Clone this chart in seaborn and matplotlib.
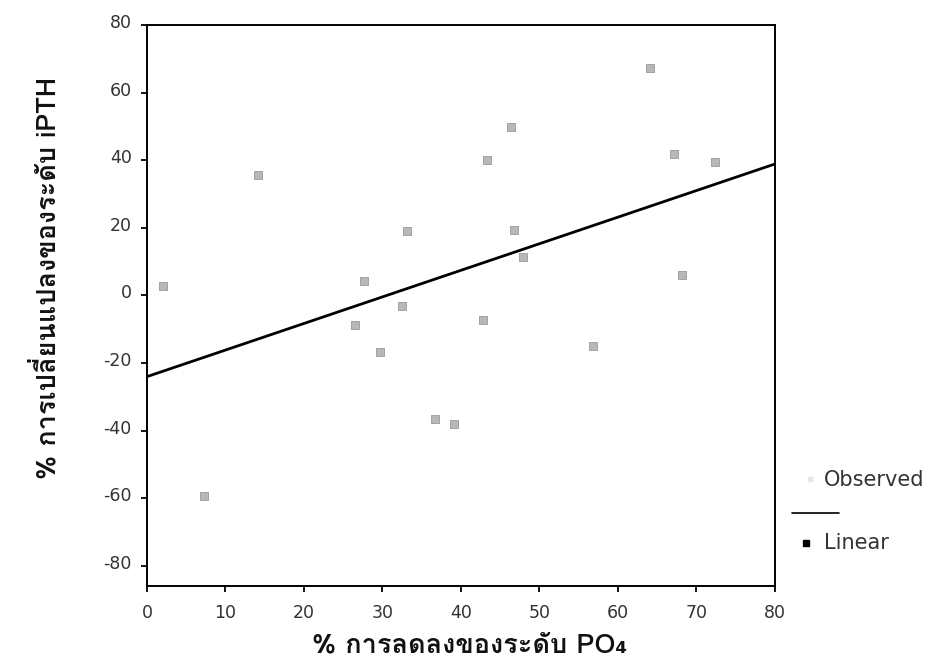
import matplotlib
matplotlib.use("Agg")
import matplotlib.pyplot as plt
import matplotlib.transforms as mtransforms
import pandas as pd
import seaborn as sns
from matplotlib import font_manager
from matplotlib.ft2font import FT2Font
from matplotlib.lines import Line2D

# % decrease in PO4 and % change in iPTH for each patient
po4_drop = [2.0, 14.1, 7.3, 27.6, 26.5, 29.7, 32.5, 33.1, 36.7, 39.1,
            42.8, 43.3, 46.4, 46.7, 47.9, 56.8, 64.1, 67.1, 68.1, 72.3]
ipth_change = [2.8, 35.5, -59.5, 4.4, -8.7, -16.7, -3.2, 19.1, -36.7, -38.2,
               -7.3, 40.0, 49.7, 19.3, 11.3, -15.0, 67.4, 41.8, 6.1, 39.5]

x_ticks = [0, 10, 20, 30, 40, 50, 60, 70, 80]
y_ticks = [-80, -60, -40, -20, 0, 20, 40, 60, 80]

x_title = "% การลดลงของระดับ PO₄"
y_title = "% การเปลี่ยนแปลงของระดับ iPTH"
legend_labels = ["Observed", "Linear"]


def find_thai_family():
    """Return the name of an installed font that covers Thai script."""
    preferred = []
    others = []
    for fe in font_manager.fontManager.ttflist:
        try:
            cmap = FT2Font(fe.fname).get_charmap()
        except Exception:
            continue
        if 0x0E01 in cmap:
            if "sans" in fe.name.lower() or "loma" in fe.name.lower():
                preferred.append(fe.name)
            else:
                others.append(fe.name)
    for group in (preferred, others):
        if group:
            return group[0]
    return "DejaVu Sans"


sns.set_style("ticks")
thai_family = find_thai_family()
plt.rcParams["font.family"] = ["DejaVu Sans"]

df = pd.DataFrame({"po4": po4_drop, "ipth": ipth_change})

fig = plt.figure(figsize=(9.32, 6.67), dpi=100)
ax = fig.add_axes([0.1577, 0.1214, 0.6738, 0.8411])
ax.set_xlim(0, 80)
ax.set_ylim(-86, 80)

sns.regplot(
    data=df, x="po4", y="ipth", ax=ax, ci=None, truncate=False, marker="s",
    scatter_kws=dict(s=26, color="#b8b8b8", edgecolor="#999999",
                     linewidths=0.6, alpha=1),
    line_kws=dict(color="black", linewidth=2.0),
)
ax.set_xlim(0, 80)
ax.set_ylim(-86, 80)

ax.set_xticks(x_ticks)
ax.set_yticks(y_ticks)
ax.set_xticklabels([str(v) for v in x_ticks])
ax.set_yticklabels([str(v) for v in y_ticks])
ax.tick_params(axis="both", direction="out", length=4, width=1.3,
               labelsize=12.5, color="black", labelcolor="#333333")
ax.tick_params(axis="x", pad=9)
ax.tick_params(axis="y", pad=7)
ax.set_xlabel("")
ax.set_ylabel("")
for side in ("left", "right", "top", "bottom"):
    ax.spines[side].set_visible(True)
    ax.spines[side].set_linewidth(1.4)
    ax.spines[side].set_color("black")

# value labels on the y axis sit slightly above their tick marks
lift = mtransforms.ScaledTranslation(0, 4 / 100, fig.dpi_scale_trans)
for lab in ax.get_yticklabels():
    lab.set_transform(lab.get_transform() + lift)

label_fonts = [thai_family, "DejaVu Sans"]
fig.text(470 / 932, 1 - 645 / 667, x_title, ha="center", va="center",
         fontsize=19.5, fontweight="bold", family=label_fonts, color="#111111")
fig.text(46 / 932, 1 - 278 / 667, y_title, ha="center", va="center",
         rotation=90, fontsize=19.5, fontweight="bold", family=label_fonts,
         color="#111111")

# legend drawn beside the plot frame
fig.add_artist(Line2D([810 / 932], [1 - 479 / 667], marker="s", markersize=3,
                      color="#e6e6e6", linestyle="none"))
fig.text(824 / 932, 1 - 480 / 667, legend_labels[0], ha="left", va="center",
         fontsize=15, color="#333333", family=["DejaVu Sans"])
fig.add_artist(Line2D([792 / 932, 839 / 932], [1 - 513 / 667, 1 - 513 / 667],
                      color="black", linewidth=1.2))
fig.add_artist(Line2D([806 / 932], [1 - 543 / 667], marker="s", markersize=4.5,
                      color="black", linestyle="none"))
fig.text(824 / 932, 1 - 543 / 667, legend_labels[1], ha="left", va="center",
         fontsize=15, color="#333333", family=["DejaVu Sans"])

fig.savefig("out.png", dpi=100, facecolor="white")
